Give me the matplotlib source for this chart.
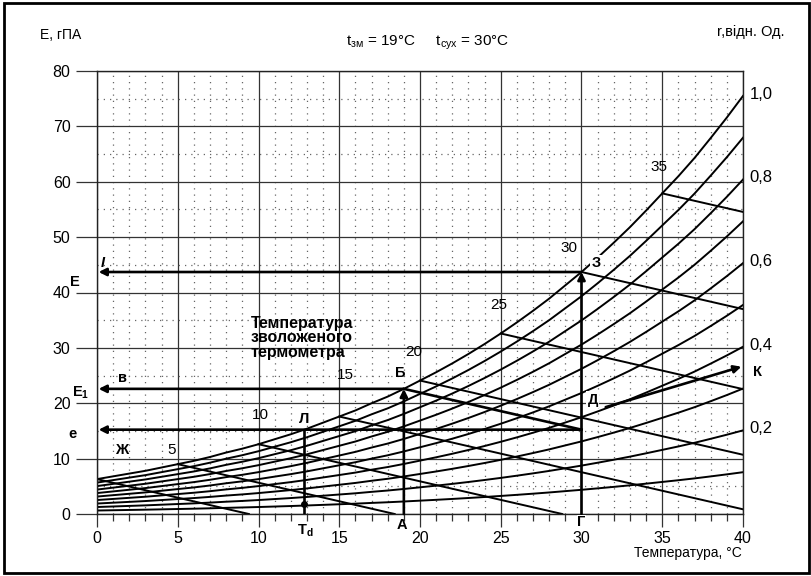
import matplotlib
matplotlib.use("Agg")
import matplotlib.pyplot as plt
from matplotlib.patches import Rectangle
import numpy as np

plt.rcParams['font.family'] = ['Liberation Sans', 'DejaVu Sans']
plt.rcParams['mathtext.fontset'] = 'custom'
plt.rcParams['mathtext.rm'] = 'Liberation Sans'
plt.rcParams['mathtext.it'] = 'Liberation Sans:italic'
plt.rcParams['mathtext.bf'] = 'Liberation Sans:bold'

# saturation vapour pressure, hPa, every 1 C
temps = np.arange(0, 41)
sat_e = np.array([6.3, 6.8, 7.3, 7.8, 8.4, 9.0, 9.6, 10.3, 11.1, 11.8,
                  12.6, 13.5, 14.4, 15.4, 16.5, 17.6, 18.7, 20.0, 21.2, 22.6,
                  24.1, 25.6, 27.2, 28.9, 30.7, 32.6, 34.6, 36.7, 38.9, 41.3,
                  43.7, 46.3, 49.0, 51.8, 54.8, 57.9, 61.0, 64.3, 67.9, 71.6,
                  75.5])
rh_levels = [0.1, 0.2, 0.3, 0.4, 0.5, 0.6, 0.7, 0.8, 0.9, 1.0]
rh_labels = ["1,0", "0,8", "0,6", "0,4", "0,2"]
rh_label_levels = [1.0, 0.8, 0.6, 0.4, 0.2]
wet_bulb = [0, 5, 10, 15, 20, 25, 30, 35]
wet_labels = ["5", "10", "15", "20", "25", "30", "35"]
psy_a = 0.67          # hPa per C, slope of wet-bulb lines
t_dry = 30
t_wet = 19


def sat(t):
    return np.interp(t, temps, sat_e)


fig = plt.figure(figsize=(8.12, 5.76), dpi=100)
ax = fig.add_axes([97/812, 1-514/576, (743-97)/812, (514-71)/576])
ax.set_xlim(0, 40)
ax.set_ylim(0, 80)

# grid
ax.set_xticks(range(0, 41, 5))
ax.set_xticks(range(0, 41, 1), minor=True)
ax.set_yticks(range(0, 81, 10))
ax.set_yticks(range(5, 80, 10), minor=True)
ax.grid(which='major', color='#333333', lw=0.9, zorder=0)
ax.grid(which='minor', color='#666666', lw=0.9, ls=(0, (1, 4)), zorder=0)
ax.tick_params(axis='x', which='major', direction='out', length=9, width=0.9,
               pad=3, labelsize=11.5, color='#333333')
ax.tick_params(axis='x', which='minor', direction='out', length=5, width=0.9,
               color='#333333')
ax.tick_params(axis='y', which='major', direction='out', length=15, width=0.9,
               pad=4, labelsize=11.5, color='#333333')
ax.tick_params(axis='y', which='minor', length=0)
for s in ax.spines.values():
    s.set_color('#222222')
    s.set_linewidth(1.0)

# relative humidity curves
for r in rh_levels:
    ax.plot(temps, r * sat_e, color='black', lw=1.4, zorder=2)

# wet-bulb lines
for tw in wet_bulb:
    e0 = sat(tw)
    x1 = min(40, tw + e0 / psy_a)
    ax.plot([tw, x1], [e0, e0 - psy_a * (x1 - tw)], color='black', lw=1.4, zorder=2)

# construction
E_dry = sat(t_dry)
E_wet = sat(t_wet)
e_act = E_wet - psy_a * (t_dry - t_wet)
t_dew = np.interp(e_act, sat_e, temps)

arrow = dict(arrowstyle='-|>', lw=1.9, color='black', mutation_scale=11,
             shrinkA=0, shrinkB=0)
for (x0, y0, x1, y1) in [(t_dry, 0, t_dry, E_dry), (t_dry, E_dry, 0.1, E_dry),
                         (t_wet, 0, t_wet, E_wet), (t_wet, E_wet, 0.1, E_wet),
                         (t_dry, e_act, 0.1, e_act), (31.5, 19.3, 39.9, 26.6)]:
    ax.annotate('', xy=(x1, y1), xytext=(x0, y0), arrowprops=arrow, zorder=4)
ax.plot([t_wet, t_dry], [E_wet, e_act], color='black', lw=1.9, zorder=4)
ax.plot([t_dew, t_dew], [0, e_act], color='black', lw=1.9, zorder=4)
ax.plot([t_dew], [1.8], 'o', color='black', ms=4, zorder=4)

# wet-bulb labels
wl_pos = [(4.6, 11.5), (10.1, 17.9), (15.4, 25.1), (19.6, 29.2),
          (24.9, 37.7), (29.2, 48.0), (34.8, 62.6)]
for lab, (x, y) in zip(wet_labels, wl_pos):
    ax.text(x, y, lab, fontsize=11, ha='center', va='center', zorder=5)

ax.text(9.5, 31.8, "Температура\nзволоженого\nтермометра", fontsize=11.5,
        fontweight='bold', ha='left', va='center', linespacing=0.95, zorder=5)

# letters
bold = dict(fontsize=10.5, fontweight='bold', ha='center', va='center', zorder=6)
white = dict(facecolor='white', edgecolor='none', pad=1.0)
ax.text(0.35, 45.3, "I", fontstyle='italic', **bold)
ax.text(-1.4, 41.9, "E", clip_on=False, **bold)
ax.text(1.55, 24.5, "в", **bold)
ax.text(-1.0, 21.9, r"$\mathbf{E_1}$", clip_on=False, **bold)
ax.text(-1.5, 14.4, "e", clip_on=False, **bold)
ax.text(1.55, 11.5, "Ж", **bold)
ax.text(12.8, 17.2, "Л", **bold)
ax.text(18.8, 25.5, "Б", **bold)
ax.text(30.9, 45.3, "З", bbox=white, **bold)
ax.text(30.7, 20.6, "Д", bbox=white, **bold)
ax.text(40.9, 25.6, "К", clip_on=False, **bold)
ax.text(18.9, -2.0, "А", clip_on=False, **bold)
ax.text(30.0, -1.5, "Г", clip_on=False,
        bbox=dict(facecolor='white', edgecolor='none', pad=0.5), **bold)
ax.text(12.9, -3.0, r"$\mathbf{T_d}$", clip_on=False, **bold)

for lab, r in zip(rh_labels, rh_label_levels):
    ax.text(40.4, r * sat_e[-1] + 0.3, lab, fontsize=12, ha='left',
            va='center', clip_on=False)

fig.text(0.049, 0.939, "E, гПА", fontsize=10, ha='left', va='center')
fig.text(0.883, 0.944, "r,відн. Од.", fontsize=10.5, ha='left', va='center')
fig.text(0.527, 0.925, r"$\mathregular{t_{зм}}$ = 19°C     $\mathregular{t_{сух}}$ = 30°C",
         fontsize=11, ha='center', va='center')
fig.text(0.913, 0.040, "Температура, °C", fontsize=10, ha='right', va='center')

fig.patches.append(Rectangle((4/812, 3/576), 805/812, 570/576, transform=fig.transFigure,
                             fill=False, edgecolor='black', lw=2))

fig.savefig("out.png", dpi=100)
